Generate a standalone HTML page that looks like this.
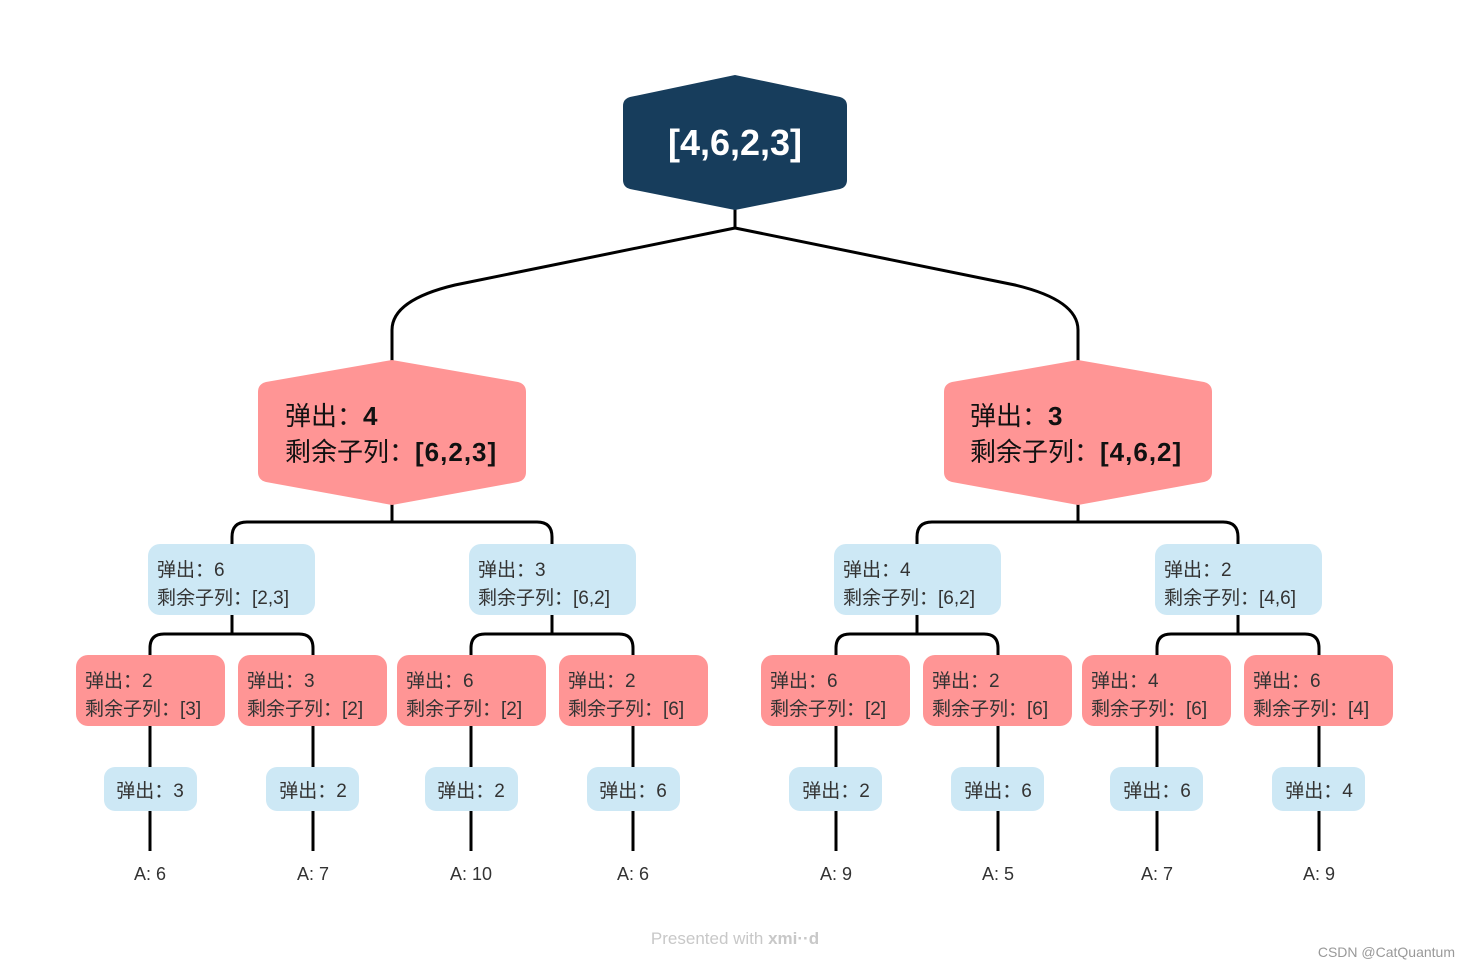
<!DOCTYPE html>
<html><head><meta charset="utf-8"><style>
html,body{margin:0;padding:0;background:#fff;}
svg{display:block;}
text{font-family:"Liberation Sans","Noto Sans CJK SC",sans-serif;}
</style></head><body>
<svg width="1470" height="969" viewBox="0 0 1470 969" xmlns="http://www.w3.org/2000/svg">
<g fill="none" stroke="#000" stroke-width="3">
<path d="M735 208 V228 L455 285 Q392 300 392 330 V362"/>
<path d="M735 228 L1015 285 Q1078 300 1078 330 V362"/>
<path d="M392 503 V522 M232 545 V537 Q232 522 247 522 H537 Q552 522 552 537 V545"/>
<path d="M1078 503 V522 M917 545 V537 Q917 522 932 522 H1223 Q1238 522 1238 537 V545"/>
<path d="M232 614 V634 M150 656 V648 Q150 634 164 634 H299 Q313 634 313 648 V656"/>
<path d="M552 614 V634 M471 656 V648 Q471 634 485 634 H619 Q633 634 633 648 V656"/>
<path d="M917 614 V634 M836 656 V648 Q836 634 850 634 H984 Q998 634 998 648 V656"/>
<path d="M1238 614 V634 M1157 656 V648 Q1157 634 1171 634 H1305 Q1319 634 1319 648 V656"/>
<path d="M150 726 V768 M150 810 V851 M313 726 V768 M313 810 V851 M471 726 V768 M471 810 V851 M633 726 V768 M633 810 V851 M836 726 V768 M836 810 V851 M998 726 V768 M998 810 V851 M1157 726 V768 M1157 810 V851 M1319 726 V768 M1319 810 V851"/>
</g>
<path d="M735 75 L840 97 Q847 99 847 106 V180 Q847 187 840 189 L735 210 L630 189 Q623 187 623 180 V106 Q623 99 630 97 Z" fill="#173d5c"/>
<text x="735" y="155" text-anchor="middle" font-size="36" font-weight="bold" fill="#fff">[4,6,2,3]</text>
<g fill="#ff9595">
<path d="M392 360 L518 382 Q526 384 526 392 V472 Q526 480 518 482 L392 505 L266 482 Q258 480 258 472 V392 Q258 384 266 382 Z"/>
<path d="M1078 360 L1204 382 Q1212 384 1212 392 V472 Q1212 480 1204 482 L1078 505 L952 482 Q944 480 944 472 V392 Q944 384 952 382 Z"/>
</g>
<g font-size="26" fill="#111">
<text x="285" y="425">弹出：<tspan font-weight="bold">4</tspan></text>
<text x="285" y="461">剩余子列：<tspan font-weight="bold" letter-spacing="1">[6,2,3]</tspan></text>
<text x="970" y="425">弹出：<tspan font-weight="bold">3</tspan></text>
<text x="970" y="461">剩余子列：<tspan font-weight="bold" letter-spacing="1">[4,6,2]</tspan></text>
</g>
<g fill="#cde8f5">
<rect x="148" y="544" width="167" height="71" rx="12"/>
<rect x="469" y="544" width="167" height="71" rx="12"/>
<rect x="834" y="544" width="167" height="71" rx="12"/>
<rect x="1155" y="544" width="167" height="71" rx="12"/>
</g>
<g font-size="19" fill="#333">
<text x="157" y="576">弹出：6</text><text x="157" y="604">剩余子列：[2,3]</text>
<text x="478" y="576">弹出：3</text><text x="478" y="604">剩余子列：[6,2]</text>
<text x="843" y="576">弹出：4</text><text x="843" y="604">剩余子列：[6,2]</text>
<text x="1164" y="576">弹出：2</text><text x="1164" y="604">剩余子列：[4,6]</text>
</g>
<g fill="#ff9595">
<rect x="76" y="655" width="149" height="71" rx="12"/>
<rect x="238" y="655" width="149" height="71" rx="12"/>
<rect x="397" y="655" width="149" height="71" rx="12"/>
<rect x="559" y="655" width="149" height="71" rx="12"/>
<rect x="761" y="655" width="149" height="71" rx="12"/>
<rect x="923" y="655" width="149" height="71" rx="12"/>
<rect x="1082" y="655" width="149" height="71" rx="12"/>
<rect x="1244" y="655" width="149" height="71" rx="12"/>
</g>
<g font-size="19" fill="#333">
<text x="85" y="687">弹出：2</text><text x="85" y="715">剩余子列：[3]</text>
<text x="247" y="687">弹出：3</text><text x="247" y="715">剩余子列：[2]</text>
<text x="406" y="687">弹出：6</text><text x="406" y="715">剩余子列：[2]</text>
<text x="568" y="687">弹出：2</text><text x="568" y="715">剩余子列：[6]</text>
<text x="770" y="687">弹出：6</text><text x="770" y="715">剩余子列：[2]</text>
<text x="932" y="687">弹出：2</text><text x="932" y="715">剩余子列：[6]</text>
<text x="1091" y="687">弹出：4</text><text x="1091" y="715">剩余子列：[6]</text>
<text x="1253" y="687">弹出：6</text><text x="1253" y="715">剩余子列：[4]</text>
</g>
<g fill="#cde8f5">
<rect x="104" y="767" width="93" height="44" rx="11"/>
<rect x="266" y="767" width="93" height="44" rx="11"/>
<rect x="425" y="767" width="93" height="44" rx="11"/>
<rect x="587" y="767" width="93" height="44" rx="11"/>
<rect x="789" y="767" width="93" height="44" rx="11"/>
<rect x="951" y="767" width="93" height="44" rx="11"/>
<rect x="1110" y="767" width="93" height="44" rx="11"/>
<rect x="1272" y="767" width="93" height="44" rx="11"/>
</g>
<g font-size="19" fill="#333" text-anchor="middle">
<text x="150" y="797">弹出：3</text>
<text x="313" y="797">弹出：2</text>
<text x="471" y="797">弹出：2</text>
<text x="633" y="797">弹出：6</text>
<text x="836" y="797">弹出：2</text>
<text x="998" y="797">弹出：6</text>
<text x="1157" y="797">弹出：6</text>
<text x="1319" y="797">弹出：4</text>
</g>
<g font-size="18" fill="#333" text-anchor="middle">
<text x="150" y="880">A: 6</text>
<text x="313" y="880">A: 7</text>
<text x="471" y="880">A: 10</text>
<text x="633" y="880">A: 6</text>
<text x="836" y="880">A: 9</text>
<text x="998" y="880">A: 5</text>
<text x="1157" y="880">A: 7</text>
<text x="1319" y="880">A: 9</text>
</g>
<text x="735" y="944" text-anchor="middle" font-size="17" fill="#c8c8c8">Presented with <tspan font-weight="bold">xmi··d</tspan></text>
<text x="1455" y="957" text-anchor="end" font-size="14" fill="#999">CSDN @CatQuantum</text>
</svg>
</body></html>
